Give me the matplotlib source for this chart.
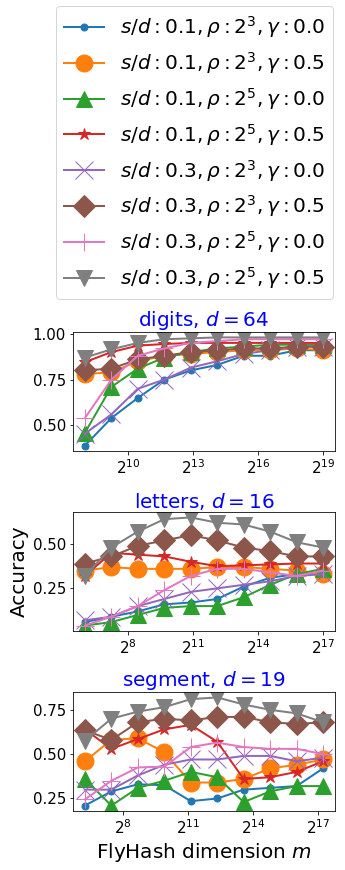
import numpy as np
import matplotlib
matplotlib.use("Agg")
import matplotlib.pyplot as plt
from matplotlib.ticker import NullLocator

# ---------------- data ----------------
labels = [
    r"$s/d: 0.1, \rho: 2^3, \gamma: 0.0$",
    r"$s/d: 0.1, \rho: 2^3, \gamma: 0.5$",
    r"$s/d: 0.1, \rho: 2^5, \gamma: 0.0$",
    r"$s/d: 0.1, \rho: 2^5, \gamma: 0.5$",
    r"$s/d: 0.3, \rho: 2^3, \gamma: 0.0$",
    r"$s/d: 0.3, \rho: 2^3, \gamma: 0.5$",
    r"$s/d: 0.3, \rho: 2^5, \gamma: 0.0$",
    r"$s/d: 0.3, \rho: 2^5, \gamma: 0.5$",
]

titles = [r"digits, $d = 64$", r"letters, $d = 16$", r"segment, $d = 19$"]

m_digits = [256, 597, 1393, 3251, 7584, 17693, 41278, 96302, 224675, 524288]
m_letters = [64, 149, 348, 813, 1896, 4423, 10320, 24076, 56169, 131072]
m_segment = [76, 177, 414, 965, 2252, 5253, 12255, 28590, 66701, 155648]

acc_digits = [
    [0.39, 0.54, 0.65, 0.75, 0.80, 0.83, 0.88, 0.88, 0.91, 0.91],
    [0.78, 0.79, 0.85, 0.88, 0.89, 0.90, 0.91, 0.91, 0.92, 0.91],
    [0.46, 0.71, 0.81, 0.87, 0.90, 0.92, 0.93, 0.94, 0.94, 0.94],
    [0.845, 0.90, 0.935, 0.944, 0.95, 0.95, 0.95, 0.95, 0.95, 0.95],
    [0.455, 0.56, 0.70, 0.75, 0.815, 0.85, 0.89, 0.91, 0.93, 0.93],
    [0.80, 0.81, 0.86, 0.88, 0.90, 0.91, 0.92, 0.92, 0.93, 0.93],
    [0.54, 0.75, 0.88, 0.92, 0.95, 0.96, 0.97, 0.97, 0.97, 0.97],
    [0.87, 0.915, 0.95, 0.97, 0.975, 0.98, 0.98, 0.98, 0.98, 0.98],
]

acc_letters = [
    [0.06, 0.09, 0.12, 0.16, 0.17, 0.19, 0.26, 0.31, 0.33, 0.33],
    [0.35, 0.37, 0.36, 0.36, 0.36, 0.37, 0.37, 0.36, 0.35, 0.33],
    [0.04, 0.06, 0.10, 0.14, 0.15, 0.15, 0.20, 0.27, 0.33, 0.36],
    [0.32, 0.45, 0.44, 0.43, 0.40, 0.375, 0.38, 0.385, 0.39, 0.39],
    [0.07, 0.09, 0.15, 0.19, 0.23, 0.25, 0.27, 0.29, 0.32, 0.33],
    [0.39, 0.43, 0.49, 0.52, 0.55, 0.52, 0.48, 0.46, 0.43, 0.43],
    [0.04, 0.09, 0.15, 0.24, 0.32, 0.36, 0.36, 0.34, 0.32, 0.35],
    [0.32, 0.48, 0.57, 0.64, 0.65, 0.62, 0.61, 0.57, 0.51, 0.48],
]

acc_segment = [
    [0.21, 0.29, 0.33, 0.325, 0.235, 0.25, 0.30, 0.31, 0.32, 0.42],
    [0.46, 0.58, 0.59, 0.51, 0.34, 0.34, 0.36, 0.42, 0.44, 0.47],
    [0.36, 0.21, 0.31, 0.35, 0.40, 0.37, 0.23, 0.29, 0.32, 0.32],
    [0.64, 0.53, 0.585, 0.64, 0.665, 0.57, 0.36, 0.37, 0.40, 0.46],
    [0.30, 0.30, 0.38, 0.44, 0.47, 0.47, 0.49, 0.49, 0.46, 0.48],
    [0.635, 0.58, 0.68, 0.70, 0.69, 0.71, 0.71, 0.68, 0.67, 0.68],
    [0.245, 0.35, 0.425, 0.43, 0.54, 0.565, 0.54, 0.53, 0.53, 0.50],
    [0.575, 0.70, 0.74, 0.765, 0.81, 0.82, 0.78, 0.75, 0.73, 0.68],
]

datasets = [
    (m_digits, acc_digits),
    (m_letters, acc_letters),
    (m_segment, acc_segment),
]

xticks_list = [
    [2**10, 2**13, 2**16, 2**19],
    [2**8, 2**11, 2**14, 2**17],
    [2**8, 2**11, 2**14, 2**17],
]
yticks_list = [
    [0.50, 0.75, 1.00],
    [0.25, 0.50],
    [0.25, 0.50, 0.75],
]

# ---------------- style ----------------
markers = ["o", "o", "^", "*", "x", "D", "+", "v"]
msizes = [7, 17, 16, 13, 18, 16, 18, 16]
colors = ["C%d" % i for i in range(8)]

W, H = 345, 870
fig = plt.figure(figsize=(W / 72, H / 72), dpi=72)

left = 73 / W
width = 262 / W
tops = [332, 512, 692]
ax_h = 119

axes = []
for k, (top, (mvals, accs)) in enumerate(zip(tops, datasets)):
    ax = fig.add_axes([left, 1 - (top + ax_h) / H, width, ax_h / H])
    axes.append(ax)
    for i in range(8):
        ax.plot(mvals, accs[i], marker=markers[i], ms=msizes[i], color=colors[i],
                lw=2, label=labels[i])
    ax.set_xscale("log", base=2)
    ax.set_xticks(xticks_list[k])
    ax.xaxis.set_minor_locator(NullLocator())
    ax.set_yticks(yticks_list[k])
    ax.set_yticklabels(["%.2f" % v for v in yticks_list[k]])
    ax.tick_params(labelsize=15)
    ax.set_title(titles[k], color="blue", fontsize=20, pad=4)

axes[1].set_ylabel("Accuracy", fontsize=20)
axes[2].set_xlabel(r"FlyHash dimension $m$", fontsize=20)

handles, labs = axes[0].get_legend_handles_labels()
fig.legend(handles, labs, loc="upper right", bbox_to_anchor=(333 / W, 1 - 6 / H),
           bbox_transform=fig.transFigure, borderaxespad=0, fontsize=20)

fig.savefig("out.png", dpi=72)
